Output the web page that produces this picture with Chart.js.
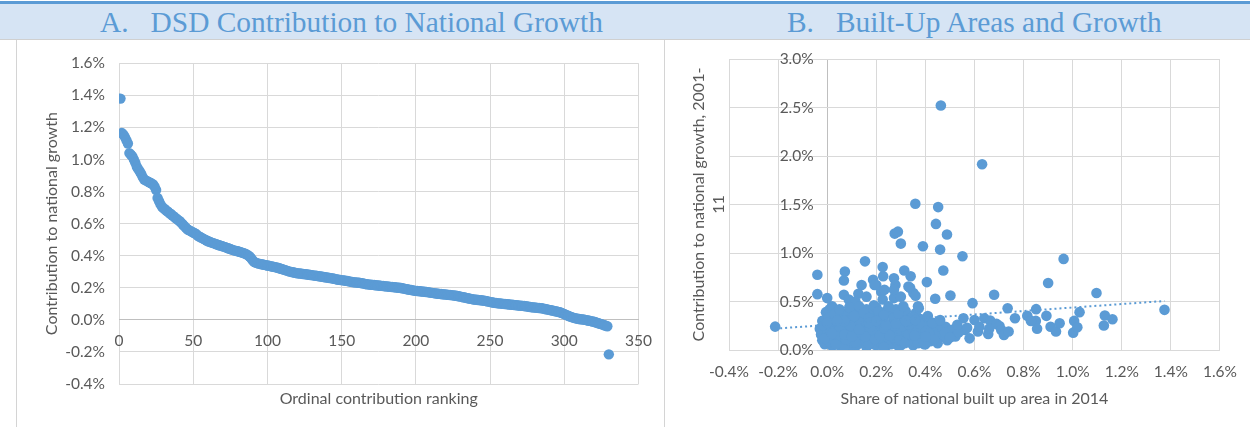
<!DOCTYPE html>
<html>
<head>
<meta charset="utf-8">
<script src="https://cdn.jsdelivr.net/npm/chart.js@4.4.0/dist/chart.umd.min.js"></script>
<style>
  body { margin: 0; width: 1250px; height: 427px; background: #fff; position: relative; overflow: hidden; }
  .topline { position: absolute; left: 0; top: 1px; width: 1250px; height: 3px; background: #5b9bd5; }
  .band { position: absolute; left: 0; top: 4px; width: 1250px; height: 35px; background: #d6e4f4; border-bottom: 1px solid #d0d0d0; }
  .ttl { position: absolute; top: 4px; font: 29.4px/36px "Liberation Serif", serif; color: #5b9bd5; white-space: pre; }
  .vline { position: absolute; top: 40px; width: 1px; height: 387px; background: #d4d4d4; }
  canvas { position: absolute; top: 40px; }
</style>
</head>
<body>
<div class="topline"></div>
<div class="band"></div>
<div class="ttl" style="left:100px">A.   DSD Contribution to National Growth</div>
<div class="ttl" style="left:787px">B.   Built-Up Areas and Growth</div>
<div class="vline" style="left:16px"></div>
<div class="vline" style="left:664px"></div>
<canvas id="chartA" width="664" height="387" style="left:0"></canvas>
<canvas id="chartB" width="585" height="387" style="left:665px"></canvas>
<script>
// Panel A: contribution to national growth (%), by ordinal rank 1..330
const rankingValues = [
  1.38, 1.165, 1.155, 1.14, 1.12, 1.10, 1.04, 1.03, 1.02, 1.00,
  0.98, 0.955, 0.94, 0.925, 0.91, 0.89, 0.875, 0.87, 0.865, 0.86,
  0.855, 0.85, 0.845, 0.83, 0.81, 0.76, 0.74, 0.72, 0.705, 0.695,
  0.69, 0.68, 0.675, 0.665, 0.66, 0.65, 0.645, 0.635, 0.63, 0.62,
  0.615, 0.605, 0.595, 0.585, 0.575, 0.565, 0.56, 0.555, 0.55, 0.545,
  0.54, 0.535, 0.525, 0.52, 0.515, 0.51, 0.505, 0.50, 0.495, 0.49,
  0.487, 0.483, 0.48, 0.477, 0.474, 0.47, 0.467, 0.464, 0.461, 0.458,
  0.455, 0.452, 0.448, 0.445, 0.442, 0.438, 0.435, 0.432, 0.43, 0.428,
  0.425, 0.422, 0.419, 0.416, 0.412, 0.408, 0.402, 0.395, 0.385, 0.372,
  0.362, 0.357, 0.354, 0.351, 0.349, 0.347, 0.345, 0.343, 0.341, 0.339,
  0.337, 0.335, 0.333, 0.331, 0.329, 0.327, 0.325, 0.322, 0.319, 0.316,
  0.313, 0.31, 0.307, 0.304, 0.301, 0.299, 0.297, 0.295, 0.293, 0.291,
  0.29, 0.289, 0.288, 0.286, 0.285, 0.284, 0.283, 0.281, 0.28, 0.279,
  0.277, 0.276, 0.275, 0.273, 0.272, 0.27, 0.269, 0.267, 0.266, 0.264,
  0.263, 0.261, 0.26, 0.258, 0.256, 0.254, 0.252, 0.25, 0.249, 0.248,
  0.246, 0.245, 0.243, 0.242, 0.24, 0.238, 0.236, 0.235, 0.234, 0.233,
  0.232, 0.231, 0.229, 0.228, 0.226, 0.224, 0.222, 0.221, 0.22, 0.219,
  0.218, 0.217, 0.216, 0.215, 0.214, 0.213, 0.212, 0.211, 0.21, 0.209,
  0.208, 0.207, 0.206, 0.205, 0.204, 0.203, 0.202, 0.201, 0.2, 0.199,
  0.197, 0.195, 0.193, 0.191, 0.189, 0.187, 0.186, 0.184, 0.182, 0.181,
  0.18, 0.179, 0.178, 0.177, 0.176, 0.175, 0.174, 0.173, 0.171, 0.17,
  0.168, 0.167, 0.165, 0.164, 0.163, 0.162, 0.161, 0.16, 0.159, 0.158,
  0.157, 0.156, 0.155, 0.154, 0.153, 0.152, 0.15, 0.149, 0.147, 0.145,
  0.143, 0.141, 0.139, 0.137, 0.135, 0.133, 0.131, 0.129, 0.127, 0.126,
  0.125, 0.124, 0.123, 0.122, 0.121, 0.12, 0.118, 0.116, 0.114, 0.112,
  0.11, 0.108, 0.106, 0.105, 0.104, 0.103, 0.102, 0.101, 0.1, 0.099,
  0.098, 0.097, 0.096, 0.095, 0.094, 0.093, 0.092, 0.091, 0.09, 0.089,
  0.088, 0.087, 0.086, 0.085, 0.084, 0.082, 0.08, 0.079, 0.078, 0.077,
  0.076, 0.075, 0.074, 0.073, 0.072, 0.07, 0.068, 0.066, 0.064, 0.062,
  0.06, 0.058, 0.056, 0.054, 0.052, 0.05, 0.047, 0.044, 0.04, 0.036,
  0.032, 0.028, 0.024, 0.02, 0.017, 0.014, 0.011, 0.009, 0.007, 0.005,
  0.004, 0.003, 0.002, 0.0, -0.002, -0.004, -0.006, -0.008, -0.01, -0.012,
  -0.015, -0.018, -0.021, -0.024, -0.027, -0.03, -0.034, -0.037, -0.04,
  -0.215
];

// Panel B: share of national built up area (x, %) vs contribution to growth (y, %)
const builtUpShare = [
  0.463, 0.631, 0.359, 0.452, 0.443, 0.488, 0.275, 0.288, 0.39, 0.46,
  0.30, 0.154, 0.551, -0.212, -0.04, -0.04, 0.0, 0.072, 0.068, 0.068,
  0.095, 0.14, 0.127, 0.187, 0.226, 0.228, 0.2, 0.22, 0.226, 0.272,
  0.278, 0.272, 0.314, 0.34, 0.338, 0.351, 0.36, 0.373, 0.406, 0.44,
  0.473, 0.502, 0.592, 0.68, 0.735, 0.765, 0.815, 0.851, 0.85, 0.855,
  0.83, 0.893, 0.90, 0.91, 0.932, 0.947, 0.963, 1.002, 1.006, 1.019,
  1.028, 1.097, 1.127, 1.131, 1.162, 1.374, 0.555, 0.561, 0.60, 0.614,
  0.64, 0.656, 0.664, 0.69, 0.702, 0.709, 0.72, 0.739, 0.43, 0.44,
  0.482, 0.489, 0.509, 0.522, 0.535, 0.47, 0.57, 0.01, 0.02, -0.005,
  0.03, 0.022, 0.193, 0.233, 0.272, 0.30, 0.331, 0.088, 0.115, 0.16,
  0.05, 0.08, 0.10, 0.12, 0.14, 0.16, 0.18, 0.20, 0.21, 0.24,
  0.26, 0.28, 0.30, 0.32, 0.34, 0.36, 0.38, 0.40, 0.42, 0.45,
  0.06, 0.09, 0.15, 0.19, 0.23, 0.27, 0.31, 0.35, 0.39, 0.43,
  -0.02, -0.03, -0.025, -0.02, -0.01, 0.0, 0.01, 0.02, 0.03, 0.04,
  0.05, 0.06, 0.07, 0.08, 0.09, 0.10, 0.11, 0.12, 0.13, 0.14,
  0.15, 0.16, 0.17, 0.18, 0.19, 0.20, 0.21, 0.22, 0.23, 0.24,
  0.25, 0.26, 0.27, 0.28, 0.29, 0.30, 0.31, 0.32, 0.33, 0.34,
  0.35, 0.36, 0.37, 0.38, 0.39, 0.40, 0.41, 0.42, 0.44, 0.45,
  0.02, 0.04, 0.06, 0.08, 0.10, 0.12, 0.14, 0.16, 0.18, 0.20,
  0.22, 0.24, 0.26, 0.28, 0.30, 0.32, 0.34, 0.36, 0.38, 0.40,
  0.01, 0.03, 0.05, 0.07, 0.09, 0.11, 0.13, 0.15, 0.17, 0.19,
  0.21, 0.23, 0.25, 0.27, 0.29, 0.31, 0.33, 0.35, 0.37, 0.39,
  -0.01, -0.015, 0.005, 0.015, 0.035, 0.055, 0.075, 0.095, 0.115, 0.135,
  0.155, 0.175, 0.195, 0.215, 0.235, 0.255, 0.275, 0.295, 0.315, 0.335,
  0.355, 0.375, 0.395, 0.415, 0.435,
  0.00, 0.03, 0.05, 0.07, 0.09, 0.11, 0.13, 0.15, 0.17, 0.19,
  0.21, 0.23, 0.25, 0.27, 0.29, 0.31, 0.33, 0.35, 0.37, 0.41,
  0.02, 0.04, 0.07, 0.10, 0.13, 0.17, 0.20, 0.24, 0.28, 0.32,
  0.36, 0.40, 0.43, 0.46, 0.48, 0.50, 0.53, 0.58, 0.62, 0.66
];
const growthContribution = [
  2.52, 1.915, 1.508, 1.473, 1.30, 1.19, 1.20, 1.22, 1.07, 1.035,
  1.097, 0.914, 0.966, 0.241, 0.776, 0.576, 0.535, 0.81, 0.717, 0.57,
  0.50, 0.67, 0.58, 0.725, 0.856, 0.76, 0.67, 0.60, 0.52, 0.74,
  0.67, 0.535, 0.82, 0.76, 0.64, 0.587, 0.56, 0.43, 0.70, 0.528,
  0.82, 0.562, 0.483, 0.569, 0.431, 0.328, 0.352, 0.421, 0.30, 0.22,
  0.30, 0.352, 0.69, 0.24, 0.19, 0.276, 0.939, 0.179, 0.30, 0.235,
  0.39, 0.587, 0.252, 0.355, 0.317, 0.414, 0.328, 0.207, 0.31, 0.19,
  0.328, 0.166, 0.303, 0.269, 0.248, 0.207, 0.155, 0.19, 0.207, 0.10,
  0.24, 0.10, 0.207, 0.14, 0.18, 0.14, 0.23, 0.42, 0.45, 0.39,
  0.31, 0.43, 0.67, 0.62, 0.62, 0.55, 0.655, 0.52, 0.50, 0.55,
  0.35, 0.38, 0.33, 0.40, 0.36, 0.42, 0.38, 0.44, 0.34, 0.40,
  0.37, 0.42, 0.36, 0.40, 0.33, 0.38, 0.32, 0.28, 0.25, 0.22,
  0.28, 0.30, 0.31, 0.29, 0.31, 0.30, 0.28, 0.27, 0.24, 0.19,
  0.30, 0.22, 0.16, 0.10, 0.06, 0.20, 0.14, 0.25, 0.09, 0.18,
  0.05, 0.13, 0.22, 0.08, 0.17, 0.04, 0.12, 0.24, 0.07, 0.19,
  0.10, 0.03, 0.15, 0.22, 0.06, 0.12, 0.20, 0.08, 0.16, 0.04,
  0.11, 0.23, 0.07, 0.15, 0.20, 0.05, 0.12, 0.22, 0.08, 0.17,
  0.05, 0.13, 0.21, 0.09, 0.15, 0.06, 0.12, 0.09, 0.15, 0.07,
  0.04, 0.11, 0.19, 0.14, 0.21, 0.05, 0.13, 0.26, 0.10, 0.05,
  0.27, 0.14, 0.06, 0.10, 0.18, 0.14, 0.10, 0.24, 0.18, 0.20,
  0.08, 0.16, 0.24, 0.03, 0.10, 0.27, 0.16, 0.22, 0.06, 0.17,
  0.09, 0.03, 0.19, 0.13, 0.04, 0.24, 0.16, 0.20, 0.07, 0.11,
  0.12, 0.25, 0.33, 0.19, 0.06, 0.15, 0.11, 0.25, 0.08, 0.28,
  0.14, 0.24, 0.11, 0.15, 0.22, 0.15, 0.25, 0.10, 0.07, 0.26,
  0.15, 0.27, 0.06, 0.17, 0.11,
  0.28, 0.37, 0.42, 0.30, 0.44, 0.35, 0.45, 0.38, 0.33, 0.46,
  0.40, 0.36, 0.45, 0.33, 0.38, 0.45, 0.30, 0.34, 0.45, 0.35,
  0.17, 0.30, 0.16, 0.14, 0.21, 0.28, 0.30, 0.26, 0.27, 0.30,
  0.31, 0.14, 0.28, 0.31, 0.18, 0.13, 0.26, 0.12, 0.24, 0.22
];

// linear trend line end points (panel B)
const trendX = [-0.212, 1.374];
const trendY = [0.22, 0.505];

const blue = '#5b9bd5';
const textColor = '#595959';
const gridColor = '#d9d9d9';
const axisColor = '#bfbfbf';
const tickFont = { family: 'Lato', size: 15.5 };
const titleFont = { family: 'Lato', size: 16 };
const pct = v => v.toFixed(1) + '%';
const zeroLine = c => Math.abs(c.tick.value) < 1e-9 ? axisColor : gridColor;

// Panel A
new Chart(document.getElementById('chartA'), {
    type: 'scatter',
    data: {
        datasets: [{
            data: rankingValues.map((v, i) => ({ x: i + 1, y: v })),
            backgroundColor: blue,
            pointRadius: 5.2,
            pointBorderWidth: 0
        }]
    },
    options: {
        responsive: false,
        animation: false,
        events: [],
        layout: { padding: { top: 18, right: 25, left: 0, bottom: 0 } },
        plugins: { legend: { display: false }, tooltip: { enabled: false } },
        scales: {
            x: {
                type: 'linear',
                position: { y: 0 },
                min: 0, max: 350,
                ticks: { stepSize: 50, padding: 12, color: textColor, font: tickFont, maxRotation: 0 },
                grid: { color: gridColor, drawTicks: false },
                border: { display: true, color: axisColor }
            },
            x2: {
                type: 'linear',
                position: 'bottom',
                min: 0, max: 350,
                ticks: { display: false },
                grid: { display: false },
                border: { display: false },
                title: { display: true, text: 'Ordinal contribution ranking', color: textColor, font: titleFont, padding: { top: 0, bottom: 19 } },
                afterFit: s => { s.height = 43; }
            },
            y: {
                position: 'left',
                min: -0.4, max: 1.6,
                ticks: { stepSize: 0.2, padding: 14, color: textColor, font: tickFont, callback: pct },
                grid: { color: zeroLine, drawTicks: false },
                border: { display: false },
                title: { display: true, text: 'Contribution to national growth', color: textColor, font: titleFont, padding: { top: 42, bottom: 0 } },
                afterFit: s => { s.width = 119; }
            }
        }
    }
});

// Panel B
new Chart(document.getElementById('chartB'), {
    type: 'scatter',
    data: {
        datasets: [{
            type: 'line',
            data: trendX.map((x, i) => ({ x: x, y: trendY[i] })),
            borderColor: blue,
            borderWidth: 2,
            borderDash: [2, 3],
            pointRadius: 0,
            showLine: true,
            fill: false
        }, {
            data: builtUpShare.map((x, i) => ({ x: x, y: growthContribution[i] })),
            backgroundColor: blue,
            pointRadius: 5.3,
            pointBorderWidth: 0
        }]
    },
    options: {
        responsive: false,
        animation: false,
        events: [],
        layout: { padding: { top: 19, right: 14, left: 0, bottom: 0 } },
        plugins: { legend: { display: false }, tooltip: { enabled: false } },
        scales: {
            x: {
                type: 'linear',
                position: 'bottom',
                min: -0.4, max: 1.6,
                ticks: { stepSize: 0.2, padding: 13, color: textColor, font: tickFont, maxRotation: 0, callback: pct },
                grid: { color: zeroLine, drawTicks: false },
                border: { display: false },
                title: { display: true, text: 'Share of national built up area in 2014', color: textColor, font: titleFont, padding: { top: 0, bottom: 19 } },
                afterFit: s => { s.height = 77; }
            },
            y: {
                type: 'linear',
                position: { x: -0.055 },
                min: 0, max: 3,
                ticks: { stepSize: 0.5, padding: 0, color: textColor, font: tickFont, callback: pct },
                grid: { color: gridColor, drawTicks: false },
                border: { display: false }
            },
            y2: {
                type: 'linear',
                position: 'left',
                min: 0, max: 3,
                ticks: { display: false },
                grid: { display: false },
                border: { display: false },
                title: {
                    display: true,
                    text: ['Contribution to national growth, 2001-', '11'],
                    color: textColor,
                    font: { family: 'Lato', size: 16, lineHeight: 1.3 },
                    padding: { top: 23, bottom: 0 }
                },
                afterFit: s => { s.width = 64; }
            }
        }
    }
});
</script>
</body>
</html>
